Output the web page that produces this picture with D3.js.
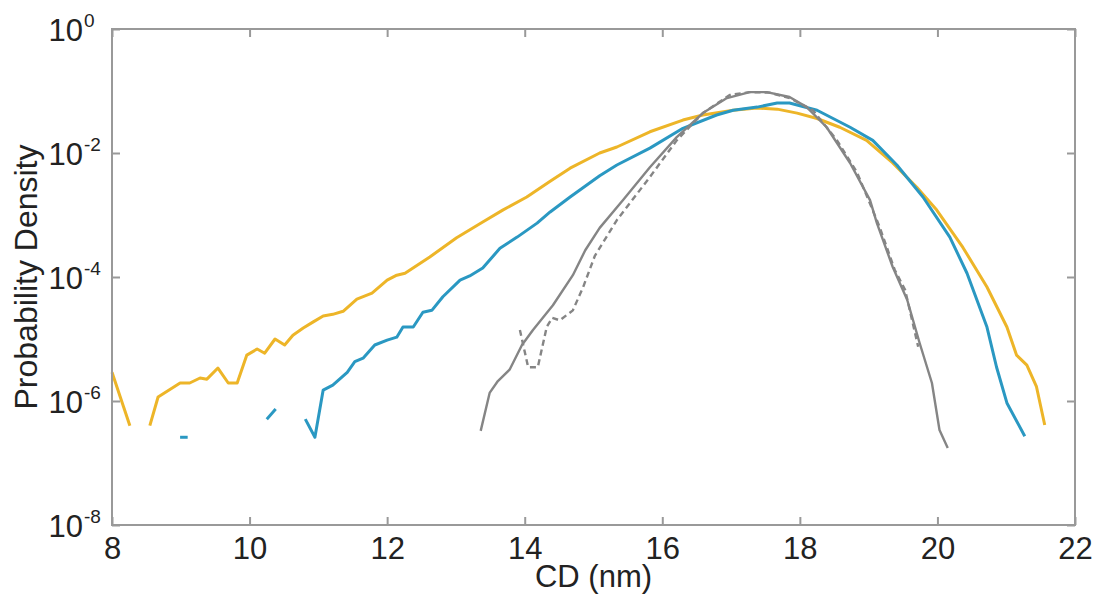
<!DOCTYPE html>
<html><head><meta charset="utf-8">
<script src="https://cdn.jsdelivr.net/npm/d3@7"></script>
<style>body{margin:0;background:#fff}svg{display:block}text{font-family:"Liberation Sans",Arial,sans-serif;fill:#222}</style>
</head><body><svg id="c" width="1099" height="602"></svg>
<script>
// Data: [CD (nm), probability density]
const yellowSeg1 = [[8.0,2.9e-6],[8.26,4.0e-7]];
const yellowSeg2 = [[8.55,4.0e-7],[8.67,1.16e-6],[8.99,1.95e-6],[9.13,1.95e-6],[9.28,2.35e-6],[9.38,2.25e-6],[9.54,3.4e-6],[9.69,1.95e-6],[9.82,1.95e-6],[9.96,5.5e-6],[10.11,6.9e-6],[10.22,5.9e-6],[10.37,1.0e-5],[10.51,8.0e-6],[10.63,1.15e-5],[10.78,1.5e-5],[10.92,1.87e-5],[11.07,2.35e-5],[11.21,2.5e-5],[11.36,2.8e-5],[11.56,4.4e-5],[11.78,5.5e-5],[12.0,8.9e-5],[12.14,1.07e-4],[12.26,1.15e-4],[12.62,2.1e-4],[13.01,4.3e-4],[13.39,7.7e-4],[13.68,1.2e-3],[14.03,1.95e-3],[14.37,3.5e-3],[14.66,5.7e-3],[15.09,1.0e-2],[15.34,1.25e-2],[15.82,2.2e-2],[16.3,3.4e-2],[16.59,4.1e-2],[17.03,4.9e-2],[17.38,5.3e-2],[17.67,5.1e-2],[17.96,4.4e-2],[18.25,3.6e-2],[18.58,2.6e-2],[18.97,1.6e-2],[19.35,6.9e-3],[19.7,2.8e-3],[19.99,1.2e-3],[20.37,3.0e-4],[20.72,6.9e-5],[21.01,1.56e-5],[21.15,5.5e-6],[21.3,3.8e-6],[21.44,1.7e-6],[21.56,4.1e-7]];
const blueSeg1 = [[8.99,2.6e-7],[9.10,2.6e-7]];
const blueSeg2 = [[10.25,5.1e-7],[10.38,7.4e-7]];
const blueSeg3 = [[10.81,5.1e-7],[10.95,2.6e-7],[11.07,1.5e-6],[11.21,1.8e-6],[11.42,2.9e-6],[11.53,4.3e-6],[11.65,4.9e-6],[11.82,8.0e-6],[12.0,9.6e-6],[12.14,1.07e-5],[12.23,1.56e-5],[12.38,1.56e-5],[12.52,2.7e-5],[12.65,2.9e-5],[12.81,4.8e-5],[13.06,8.9e-5],[13.2,1.04e-4],[13.39,1.4e-4],[13.64,2.9e-4],[13.89,4.4e-4],[14.18,7.4e-4],[14.37,1.12e-3],[14.66,1.95e-3],[15.09,4.3e-3],[15.34,6.4e-3],[15.82,1.2e-2],[16.3,2.5e-2],[16.79,4.1e-2],[17.03,4.9e-2],[17.38,5.5e-2],[17.67,6.4e-2],[17.85,6.4e-2],[18.25,4.9e-2],[18.73,2.6e-2],[19.06,1.6e-2],[19.41,6.4e-3],[19.79,1.95e-3],[20.18,4.4e-4],[20.43,1.15e-4],[20.72,1.56e-5],[20.86,3.5e-6],[21.01,9.3e-7],[21.27,2.7e-7]];
const graySolid = [[13.36,3.3e-7],[13.49,1.35e-6],[13.61,2.1e-6],[13.78,3.2e-6],[13.96,8.0e-6],[14.12,1.4e-5],[14.41,3.5e-5],[14.7,1.07e-4],[14.88,2.7e-4],[15.09,6.2e-4],[15.43,1.74e-3],[15.82,5.9e-3],[16.21,1.8e-2],[16.59,4.4e-2],[16.94,7.7e-2],[17.27,9.6e-2],[17.52,9.6e-2],[17.85,8.0e-2],[18.1,5.5e-2],[18.39,2.6e-2],[18.73,6.9e-3],[19.02,1.74e-3],[19.12,7.4e-4],[19.35,1.45e-4],[19.56,4.3e-5],[19.74,8.7e-6],[19.92,1.95e-6],[20.03,3.4e-7],[20.15,1.75e-7]];
const grayDashed = [[13.93,1.4e-5],[14.05,3.5e-6],[14.19,3.5e-6],[14.32,1.56e-5],[14.4,2.2e-5],[14.51,2.0e-5],[14.7,2.9e-5],[14.85,6.9e-5],[15.02,2.2e-4],[15.34,8.3e-4],[15.82,4.1e-3],[16.21,1.6e-2],[16.59,4.4e-2],[16.98,8.6e-2],[17.27,9.6e-2],[17.56,9.4e-2],[17.85,7.7e-2],[18.19,4.9e-2],[18.54,1.6e-2],[18.83,4.9e-3],[19.16,6.4e-4],[19.38,1.3e-4],[19.53,6.2e-5],[19.72,7.5e-6]];
const xTicks = [8,10,12,14,16,18,20,22];
const yTickExps = [0,-2,-4,-6,-8];

const L=112,R=1075,T=29,B=525;
const svg=d3.select("#c");
const x=d3.scaleLinear().domain([8,22]).range([L,R]);
const y=d3.scaleLog().domain([1e-8,1]).range([B,T]);
const line=d3.line().x(d=>x(d[0])).y(d=>y(d[1]));

const series=[
 {d:yellowSeg1,c:"#EDB528",w:3},{d:yellowSeg2,c:"#EDB528",w:3},
 {d:blueSeg1,c:"#2A98C2",w:3},{d:blueSeg2,c:"#2A98C2",w:3},{d:blueSeg3,c:"#2A98C2",w:3},
 {d:graySolid,c:"#858585",w:2.4},{d:grayDashed,c:"#858585",w:2.4,dash:"6,4"}
];
const g=svg.append("g");
series.forEach(s=>{
 g.append("path").attr("d",line(s.d)).attr("fill","none").attr("stroke",s.c)
  .attr("stroke-width",s.w).attr("stroke-linejoin","round")
  .attr("stroke-dasharray",s.dash||null);
});

// frame
svg.append("rect").attr("x",L).attr("y",T).attr("width",R-L).attr("height",B-T)
 .attr("fill","none").attr("stroke","#999").attr("stroke-width",2);

const xb=svg.append("g").attr("transform",`translate(0,${B})`)
 .call(d3.axisBottom(x).tickValues(xTicks).tickSize(-8).tickFormat(d3.format("d")));
const xt=svg.append("g").attr("transform",`translate(0,${T})`)
 .call(d3.axisTop(x).tickValues(xTicks).tickSize(-8).tickFormat(""));
const yl=svg.append("g").attr("transform",`translate(${L},0)`)
 .call(d3.axisLeft(y).tickValues(yTickExps.map(e=>Math.pow(10,e))).tickSize(-8).tickFormat(""));
const yr=svg.append("g").attr("transform",`translate(${R},0)`)
 .call(d3.axisRight(y).tickValues(yTickExps.map(e=>Math.pow(10,e))).tickSize(-8).tickFormat(""));
[xb,xt,yl,yr].forEach(a=>{a.select(".domain").remove();a.selectAll(".tick line").attr("stroke","#999").attr("stroke-width",2);});
xb.selectAll(".tick text").attr("font-size",31).attr("fill","#222").attr("dy",0).attr("y",34)
 .style("font-family",'"Liberation Sans",Arial,sans-serif');

yTickExps.forEach(e=>{
 const yy=y(Math.pow(10,e));
 svg.append("text").attr("x",83).attr("y",yy+12).attr("text-anchor","end").attr("font-size",31).text("10");
 svg.append("text").attr("x",84).attr("y",yy-2).attr("font-size",19).text(String(e));
});

svg.append("text").attr("x",(L+R)/2).attr("y",587).attr("text-anchor","middle").attr("font-size",31).text("CD (nm)");
svg.append("text").attr("transform",`translate(37,${(T+B)/2}) rotate(-90)`).attr("text-anchor","middle").attr("font-size",32).text("Probability Density");
</script></body></html>
